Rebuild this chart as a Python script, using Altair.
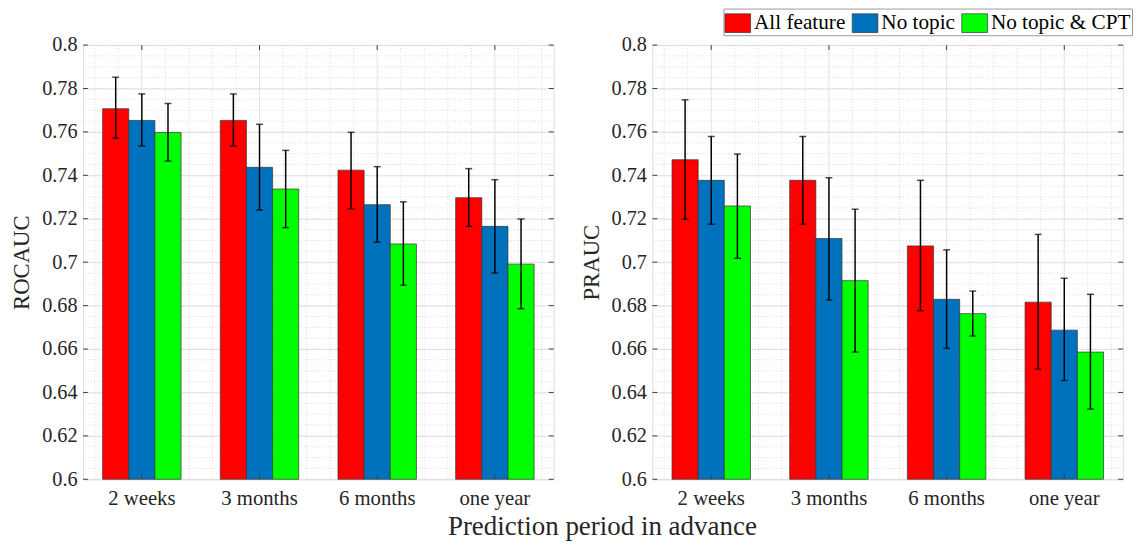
import altair as alt
import numpy as np
import pandas as pd

periods = ["2 weeks", "3 months", "6 months", "one year"]
series = ["All feature", "No topic", "No topic & CPT"]
colors = ["#FF0000", "#0072BD", "#00FF00"]
y_ticks = [0.6, 0.62, 0.64, 0.66, 0.68, 0.7, 0.72, 0.74, 0.76, 0.78, 0.8]

# ROCAUC (left panel)
roc_all = [0.7707, 0.7653, 0.7424, 0.7297]
roc_all_lo = [0.7571, 0.7535, 0.7246, 0.7165]
roc_all_hi = [0.7852, 0.7775, 0.7598, 0.7431]
roc_nt = [0.7653, 0.7437, 0.7265, 0.7165]
roc_nt_lo = [0.7535, 0.7240, 0.7092, 0.6950]
roc_nt_hi = [0.7775, 0.7635, 0.7440, 0.7380]
roc_ntc = [0.7597, 0.7337, 0.7084, 0.6991]
roc_ntc_lo = [0.7466, 0.7159, 0.6894, 0.6786]
roc_ntc_hi = [0.7731, 0.7515, 0.7278, 0.7199]

# PRAUC (right panel)
pr_all = [0.7472, 0.7377, 0.7075, 0.6816]
pr_all_lo = [0.7198, 0.7175, 0.6776, 0.6508]
pr_all_hi = [0.7748, 0.7579, 0.7377, 0.7128]
pr_nt = [0.7377, 0.7109, 0.6829, 0.6687]
pr_nt_lo = [0.7175, 0.6826, 0.6603, 0.6455]
pr_nt_hi = [0.7579, 0.7389, 0.7057, 0.6926]
pr_ntc = [0.7259, 0.6915, 0.6763, 0.6586]
pr_ntc_lo = [0.7018, 0.6586, 0.6660, 0.6323]
pr_ntc_hi = [0.7498, 0.7244, 0.6867, 0.6852]

FONT = "Liberation Serif"
TXT = "#262626"
W, H = 477, 440


def build_df(vals, los, his):
    rows = []
    for s, v, l, h in zip(series, vals, los, his):
        for i, p in enumerate(periods):
            rows.append({"period": p, "series": s, "value": v[i], "lo": l[i], "hi": h[i]})
    return pd.DataFrame(rows)


# grid / tick positions (styling, in MATLAB-like category units 1..4)
major_x = pd.DataFrame({"gx": [1.0, 2.0, 3.0, 4.0]})
minor_x = pd.DataFrame({"gx": [round(v, 2) for v in np.arange(0.6, 4.45, 0.2) if abs(v - round(v)) > 1e-6]})
minor_y = pd.DataFrame({"gy": [round(v, 3) for v in np.arange(0.6, 0.8001, 0.005)]})
major_y = pd.DataFrame({"gy": y_ticks})


def panel(vals, los, his, ytitle, legend):
    df = build_df(vals, los, his)
    yscale = alt.Scale(domain=[0.6, 0.8], nice=False, zero=False)
    qx = alt.Scale(domain=[0.5, 4.5], nice=False, zero=False)
    xs = alt.Scale(paddingInner=1 / 3, paddingOuter=1 / 6)
    xos = alt.Scale(paddingInner=0, paddingOuter=0)
    yaxis = alt.Axis(values=y_ticks, format="~g", labelFont=FONT, labelFontSize=20.5,
                     labelColor=TXT, title=ytitle, titleFont=FONT, titleFontSize=23,
                     titleFontWeight="normal", titleColor=TXT, titlePadding=8,
                     ticks=False, domain=False, grid=True, gridColor="#e3e3e3",
                     gridWidth=1, labelPadding=6)
    xaxis = alt.Axis(labelAngle=0, labelFont=FONT, labelFontSize=21, labelColor=TXT,
                     ticks=False, domain=False, grid=False, labelPadding=9, title=None)

    vminor = alt.Chart(minor_x).mark_rule(color="#d0d0d0", strokeDash=[1, 2], strokeWidth=0.8).encode(
        x=alt.X("gx:Q", scale=qx, axis=None))
    vmajor = alt.Chart(major_x).mark_rule(color="#e3e3e3", strokeWidth=1).encode(
        x=alt.X("gx:Q", scale=qx, axis=None))
    hminor = alt.Chart(minor_y).mark_rule(color="#d0d0d0", strokeDash=[1, 2], strokeWidth=0.8).encode(
        y=alt.Y("gy:Q", scale=yscale, axis=yaxis))
    grid = alt.layer(vminor, vmajor, hminor)

    xenc = alt.X("period:N", sort=periods, scale=xs, axis=xaxis)
    xoff = alt.XOffset("series:N", sort=series, scale=xos)
    bars = alt.Chart(df).mark_bar(stroke="#333333", strokeWidth=0.7).encode(
        x=xenc,
        xOffset=xoff,
        y=alt.Y("value:Q", scale=yscale, axis=yaxis),
        y2=alt.datum(0.6),
        color=alt.Color("series:N", sort=series, scale=alt.Scale(domain=series, range=colors),
                        legend=legend),
    )
    errs = alt.Chart(df).mark_rule(color="black", strokeWidth=1.5).encode(
        x=xenc, xOffset=xoff, y=alt.Y("lo:Q", scale=yscale, axis=yaxis), y2="hi:Q")
    cap_lo = alt.Chart(df).mark_tick(color="black", thickness=1.5, size=7).encode(
        x=xenc, xOffset=xoff, y=alt.Y("lo:Q", scale=yscale, axis=yaxis))
    cap_hi = alt.Chart(df).mark_tick(color="black", thickness=1.5, size=7).encode(
        x=xenc, xOffset=xoff, y=alt.Y("hi:Q", scale=yscale, axis=yaxis))
    inner = alt.layer(bars, errs, cap_lo, cap_hi)

    tk = "#404040"
    ty_l = alt.Chart(major_y).mark_rule(color=tk, strokeWidth=1).encode(
        y=alt.Y("gy:Q", scale=yscale, axis=yaxis), x=alt.value(0), x2=alt.value(5))
    ty_r = alt.Chart(major_y).mark_rule(color=tk, strokeWidth=1).encode(
        y=alt.Y("gy:Q", scale=yscale, axis=yaxis), x=alt.value(W - 5), x2=alt.value(W))
    tx_b = alt.Chart(major_x).mark_rule(color=tk, strokeWidth=1).encode(
        x=alt.X("gx:Q", scale=qx, axis=None), y=alt.value(H - 5), y2=alt.value(H))
    tx_t = alt.Chart(major_x).mark_rule(color=tk, strokeWidth=1).encode(
        x=alt.X("gx:Q", scale=qx, axis=None), y=alt.value(0), y2=alt.value(5))
    ticks = alt.layer(ty_l, ty_r, tx_b, tx_t)

    return alt.layer(grid, inner, ticks).resolve_scale(x="independent").properties(width=W, height=H)


legend = alt.Legend(
    orient="none", legendX=72, legendY=-37, direction="horizontal", columns=3, title=None,
    labelFont=FONT, labelFontSize=21.5, labelColor="black", labelLimit=400,
    symbolType="M-1,-0.73L1,-0.73L1,0.73L-1,0.73Z", symbolSize=676,
    symbolStrokeColor="#333333", symbolStrokeWidth=0.7, symbolOpacity=1,
    strokeColor="#999999", fillColor="white", padding=1, columnPadding=5, labelOffset=3,
)

left = panel([roc_all, roc_nt, roc_ntc], [roc_all_lo, roc_nt_lo, roc_ntc_lo],
             [roc_all_hi, roc_nt_hi, roc_ntc_hi], "ROCAUC", None)
right = panel([pr_all, pr_nt, pr_ntc], [pr_all_lo, pr_nt_lo, pr_ntc_lo],
              [pr_all_hi, pr_nt_hi, pr_ntc_hi], "PRAUC", legend)

chart = alt.hconcat(left, right, spacing=25).resolve_scale(color="independent").resolve_legend(
    color="independent").properties(
    title=alt.TitleParams("Prediction period in advance", orient="bottom", anchor="middle",
                          font=FONT, fontSize=27.3, fontWeight="normal", color=TXT, dx=31, offset=4),
    padding={"left": 2, "top": -4, "right": 0, "bottom": 0},
).configure_view(stroke="#a0a0a0", strokeWidth=1.2).configure(background="white", font=FONT).configure_axis(
    labelFont=FONT, titleFont=FONT).configure_legend(labelFont=FONT)

chart.save("out.html", embed_options={"renderer": "svg", "actions": False})
